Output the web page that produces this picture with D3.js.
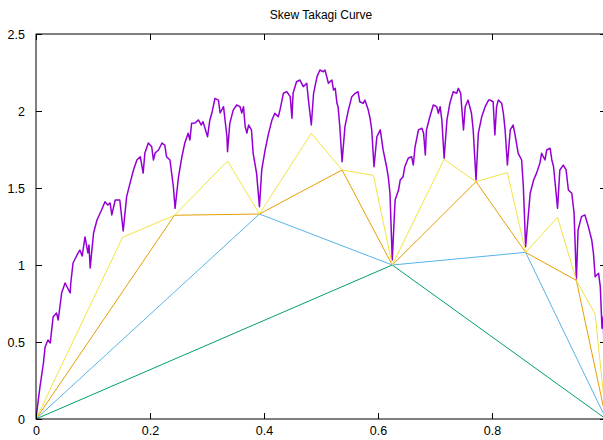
<!DOCTYPE html>
<html>
<head>
<meta charset="utf-8">
<title>Skew Takagi Curve</title>
<script src="https://d3js.org/d3.v7.min.js"></script>
<style>
  body { margin: 0; background: #fff; overflow: hidden; }
  svg { display: block; }
  text { font-family: "Liberation Sans", Arial, Helvetica, sans-serif; fill: #000; }
</style>
</head>
<body>
<script type="text/javascript">

// tick labels
var xTicks = [0, 0.2, 0.4, 0.6, 0.8, 1.0];
var yTicks = [0, 0.5, 1, 1.5, 2, 2.5];

// polygon approximations (levels 1 to 4)
var level1X = [0, 0.625, 1];
var level1Y = [0, 1.0, 0];

var level2X = [0, 0.392, 0.625, 0.859, 1];
var level2Y = [0, 1.331, 1.0, 1.082, 0];

var level3X = [0, 0.243, 0.392, 0.537, 0.625, 0.772, 0.859, 0.948, 1];
var level3Y = [0, 1.323, 1.331, 1.617, 1.0, 1.541, 1.082, 0.900, 0];

var level4X = [0, 0.152, 0.243, 0.336, 0.392, 0.483, 0.537, 0.592, 0.625,
               0.716, 0.772, 0.827, 0.859, 0.915, 0.948, 0.981, 1];
var level4Y = [0, 1.180, 1.323, 1.675, 1.331, 1.855, 1.617, 1.582, 1.0,
               1.686, 1.541, 1.600, 1.082, 1.310, 0.900, 0.680, 0];

// the curve itself
var curveX = [0, 0.004, 0.007, 0.013, 0.016, 0.021, 0.025, 0.030, 0.036, 0.039,
  0.045, 0.051, 0.060, 0.061, 0.065, 0.072, 0.077, 0.081, 0.086, 0.091,
  0.093, 0.095, 0.101, 0.107, 0.115, 0.121, 0.126, 0.130, 0.133, 0.139,
  0.147, 0.153, 0.159, 0.165, 0.171, 0.177, 0.183, 0.188, 0.191, 0.197,
  0.203, 0.206, 0.209, 0.215, 0.221, 0.226, 0.229, 0.235, 0.241, 0.244,
  0.250, 0.256, 0.261, 0.267, 0.270, 0.273, 0.279, 0.285, 0.290, 0.293,
  0.301, 0.305, 0.309, 0.314, 0.320, 0.323, 0.329, 0.335, 0.336, 0.340,
  0.346, 0.352, 0.358, 0.361, 0.364, 0.367, 0.370, 0.373, 0.378, 0.381,
  0.387, 0.392, 0.396, 0.402, 0.408, 0.414, 0.419, 0.425, 0.428, 0.434,
  0.440, 0.446, 0.449, 0.451, 0.457, 0.463, 0.469, 0.475, 0.478, 0.483,
  0.487, 0.493, 0.498, 0.504, 0.507, 0.510, 0.513, 0.519, 0.522, 0.525,
  0.528, 0.530, 0.533, 0.537, 0.542, 0.548, 0.554, 0.560, 0.565, 0.568,
  0.574, 0.577, 0.583, 0.586, 0.589, 0.593, 0.598, 0.604, 0.609, 0.615,
  0.618, 0.621, 0.625, 0.630, 0.636, 0.639, 0.644, 0.647, 0.653, 0.659,
  0.662, 0.665, 0.671, 0.677, 0.680, 0.683, 0.685, 0.691, 0.697, 0.703,
  0.706, 0.709, 0.712, 0.716, 0.721, 0.726, 0.732, 0.738, 0.741, 0.745,
  0.750, 0.753, 0.758, 0.764, 0.767, 0.772, 0.776, 0.782, 0.788, 0.794,
  0.797, 0.802, 0.805, 0.808, 0.811, 0.817, 0.820, 0.823, 0.827, 0.832,
  0.837, 0.840, 0.846, 0.852, 0.855, 0.859, 0.864, 0.867, 0.873, 0.878,
  0.884, 0.887, 0.893, 0.896, 0.902, 0.905, 0.908, 0.915, 0.919, 0.925,
  0.930, 0.934, 0.940, 0.944, 0.948, 0.951, 0.957, 0.963, 0.969, 0.975,
  0.978, 0.981, 0.987, 0.990, 0.993, 0.995, 1];
var curveY = [0, 0.123, 0.210, 0.362, 0.468, 0.513, 0.494, 0.662, 0.688, 0.643,
  0.818, 0.883, 0.818, 0.883, 1.013, 1.065, 1.097, 1.058, 1.182, 1.078,
  1.130, 0.981, 1.208, 1.292, 1.357, 1.411, 1.390, 1.403, 1.325, 1.422,
  1.422, 1.221, 1.444, 1.532, 1.617, 1.682, 1.703, 1.597, 1.727, 1.792,
  1.768, 1.682, 1.727, 1.747, 1.792, 1.779, 1.703, 1.682, 1.508, 1.368,
  1.573, 1.703, 1.792, 1.855, 1.812, 1.920, 1.922, 1.942, 1.909, 1.931,
  1.833, 1.942, 1.994, 2.082, 2.071, 1.987, 2.028, 1.833, 1.736, 1.920,
  2.006, 2.039, 2.028, 1.987, 2.028, 1.898, 1.857, 1.909, 1.877, 1.725,
  1.595, 1.379, 1.617, 1.747, 1.855, 1.942, 1.985, 1.963, 2.006, 2.115,
  2.125, 2.093, 1.953, 2.115, 2.190, 2.201, 2.158, 2.180, 2.071, 1.909,
  2.115, 2.223, 2.266, 2.255, 2.266, 2.223, 2.180, 2.201, 2.136, 2.147,
  2.050, 2.028, 1.898, 1.671, 1.898, 2.006, 2.093, 2.115, 2.125, 2.060,
  2.050, 2.071, 2.006, 1.953, 1.877, 1.638, 1.833, 1.877, 1.747, 1.638,
  1.573, 1.466, 1.032, 1.422, 1.487, 1.552, 1.573, 1.638, 1.693, 1.703,
  1.649, 1.768, 1.877, 1.888, 1.855, 1.714, 1.877, 1.963, 2.039, 2.028,
  1.985, 2.028, 1.942, 1.693, 1.942, 2.050, 2.125, 2.115, 2.147, 2.115,
  1.877, 2.028, 2.071, 1.985, 1.877, 1.552, 1.855, 1.963, 2.028, 2.071,
  2.071, 2.060, 1.844, 2.028, 2.071, 2.050, 1.985, 1.877, 1.649, 1.877,
  1.909, 1.855, 1.725, 1.682, 1.508, 1.119, 1.336, 1.466, 1.552, 1.595,
  1.660, 1.725, 1.682, 1.747, 1.758, 1.682, 1.638, 1.368, 1.617, 1.649,
  1.617, 1.487, 1.466, 1.336, 0.903, 1.227, 1.314, 1.325, 1.249, 1.162,
  1.076, 0.924, 0.946, 0.859, 0.589, 0.664, 0];

// size of the picture and of the plot box
var width = 603;
var height = 440;
var plotLeft = 36, plotRight = 606, plotTop = 34, plotBottom = 419;

var svg = d3.select("body")
  .append("svg")
  .attr("width", width)
  .attr("height", height);

var x = d3.scaleLinear().domain([0, 1]).range([plotLeft, plotRight]);
var y = d3.scaleLinear().domain([0, 2.5]).range([plotBottom, plotTop]);

// clip everything to the plot box
svg.append("clipPath")
  .attr("id", "plotclip")
  .append("rect")
  .attr("x", plotLeft).attr("y", plotTop)
  .attr("width", plotRight - plotLeft).attr("height", plotBottom - plotTop);

var plot = svg.append("g").attr("clip-path", "url(#plotclip)");

var line = d3.line()
  .x(function(d) { return x(d[0]); })
  .y(function(d) { return y(d[1]); });

function zipXY(xs, ys) {
  return xs.map(function(v, i) { return [v, ys[i]]; });
}

// the curve
plot.append("path")
  .attr("d", line(zipXY(curveX, curveY)))
  .attr("fill", "none")
  .attr("stroke", "#9400d3")
  .attr("stroke-width", 1.5)
  .attr("stroke-linejoin", "round");

// the approximating polygons
var levels = [
  { xs: level1X, ys: level1Y, color: "#009e73" },
  { xs: level2X, ys: level2Y, color: "#56b4e9" },
  { xs: level3X, ys: level3Y, color: "#e69f00" },
  { xs: level4X, ys: level4Y, color: "#f0e442" }
];

levels.forEach(function(l) {
  plot.append("path")
    .attr("d", line(zipXY(l.xs, l.ys)))
    .attr("fill", "none")
    .attr("stroke", l.color)
    .attr("stroke-width", 1);
});

// axes, ticks point inwards and are mirrored
var axisStyle = function(g) {
  g.select(".domain").remove();
  g.selectAll(".tick line").attr("stroke", "#000");
  g.selectAll(".tick text")
    .attr("font-size", "12.5px")
    .attr("font-family", "Liberation Sans, Arial, sans-serif")
    .attr("fill", "#000");
};

// tick at x = 1 sits outside the picture, so no label for it
svg.append("g")
  .attr("transform", "translate(0," + plotBottom + ")")
  .call(d3.axisBottom(x).tickValues(xTicks.slice(0, 5)).tickSize(-6).tickPadding(7)
    .tickFormat(function(d) { return d3.format("")(d); }))
  .call(axisStyle);

svg.append("g")
  .attr("transform", "translate(0," + plotTop + ")")
  .call(d3.axisTop(x).tickValues(xTicks).tickSize(-6).tickFormat(""))
  .call(axisStyle);

svg.append("g")
  .attr("transform", "translate(" + plotLeft + ",0)")
  .call(d3.axisLeft(y).tickValues(yTicks).tickSize(-6).tickPadding(11)
    .tickFormat(function(d) { return d3.format("")(d); }))
  .call(axisStyle);

svg.append("g")
  .attr("transform", "translate(" + plotRight + ",0)")
  .call(d3.axisRight(y).tickValues(yTicks).tickSize(-6).tickFormat(""))
  .call(axisStyle);

// border
svg.append("rect")
  .attr("x", plotLeft).attr("y", plotTop)
  .attr("width", plotRight - plotLeft).attr("height", plotBottom - plotTop)
  .attr("fill", "none")
  .attr("stroke", "#000")
  .attr("stroke-width", 1);

// title
svg.append("text")
  .attr("x", (plotLeft + plotRight) / 2)
  .attr("y", 19)
  .attr("text-anchor", "middle")
  .attr("font-size", "12px")
  .text("Skew Takagi Curve");

</script>
</body>
</html>
